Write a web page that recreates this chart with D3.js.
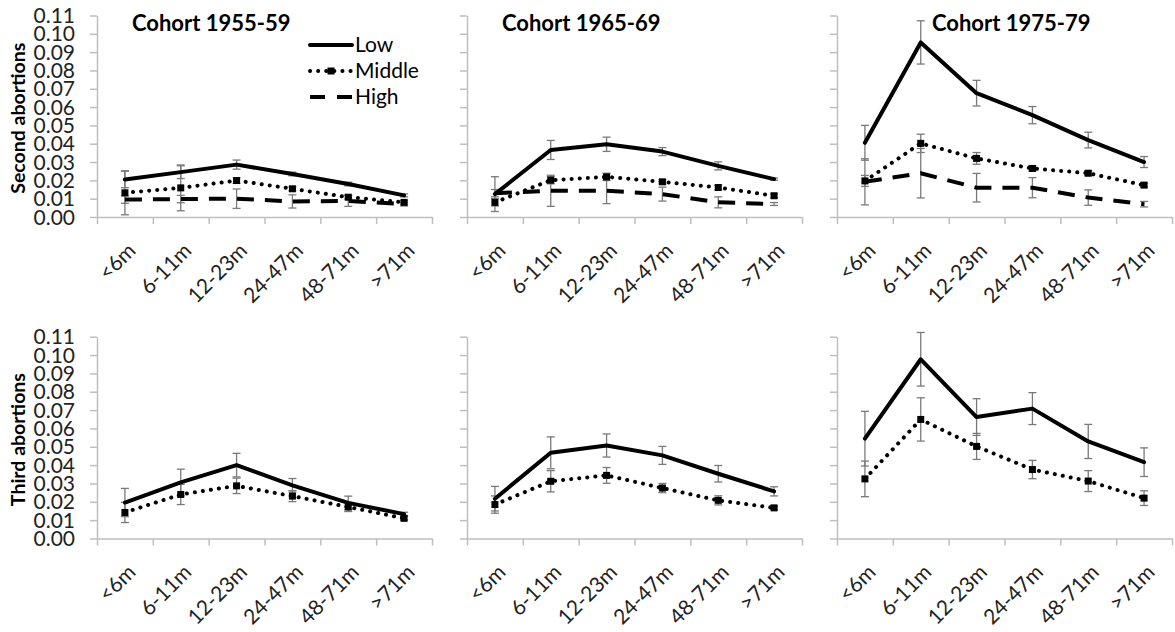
<!DOCTYPE html>
<html>
<head>
<meta charset="utf-8">
<script src="https://cdn.jsdelivr.net/npm/d3@7"></script>
<style>
  body { margin: 0; background: #fff; }
  svg { font-family: Lato, "Open Sans", sans-serif; }
  .tick text { fill: #222; }
</style>
</head>
<body>
<svg width="1175" height="632"></svg>
<script>
const categories = ["<6m", "6-11m", "12-23m", "24-47m", "48-71m", ">71m"];
const cohorts = ["Cohort 1955-59", "Cohort 1965-69", "Cohort 1975-79"];
const rowLabels = ["Second abortions", "Third abortions"];
const yTickValues = [0, 0.01, 0.02, 0.03, 0.04, 0.05, 0.06, 0.07, 0.08, 0.09, 0.10, 0.11];
const legendNames = ["Low", "Middle", "High"];

// second abortions, one inner array per cohort
const secondLow = [
  [0.0205, 0.0245, 0.0286, 0.0235, 0.0180, 0.0118],
  [0.0125, 0.0366, 0.0397, 0.0357, 0.0279, 0.0207],
  [0.0405, 0.0953, 0.0676, 0.0556, 0.0420, 0.0300]
];
const secondLowErr = [
  [0.0045, 0.0035, 0.0025, 0.0010, 0.0010, 0.0008],
  [0.0095, 0.0052, 0.0039, 0.0022, 0.0022, 0.0006],
  [0.0095, 0.0118, 0.0070, 0.0047, 0.0043, 0.0030]
];
const secondMiddle = [
  [0.0132, 0.0159, 0.0199, 0.0154, 0.0108, 0.0080],
  [0.0080, 0.0201, 0.0219, 0.0192, 0.0161, 0.0116],
  [0.0197, 0.0402, 0.0320, 0.0265, 0.0239, 0.0174]
];
const secondMiddleErr = [
  [0.0120, 0.0125, 0.0015, 0.0010, 0.0010, 0.0010],
  [0.0020, 0.0020, 0.0020, 0.0012, 0.0012, 0.0010],
  [0.0030, 0.0050, 0.0032, 0.0015, 0.0013, 0.0010]
];
const secondHigh = [
  [0.0095, 0.0098, 0.0100, 0.0085, 0.0088, 0.0070],
  [0.0130, 0.0143, 0.0143, 0.0125, 0.0080, 0.0071],
  [0.0192, 0.0239, 0.0160, 0.0160, 0.0106, 0.0070]
];
const secondHighErr = [
  [0.0020, 0.0020, 0.0053, 0.0036, 0.0030, 0.0010],
  [0.0020, 0.0085, 0.0070, 0.0038, 0.0030, 0.0008],
  [0.0126, 0.0135, 0.0078, 0.0055, 0.0042, 0.0015]
];

// third abortions
const thirdLow = [
  [0.0196, 0.0306, 0.0400, 0.0290, 0.0194, 0.0133],
  [0.0217, 0.0467, 0.0507, 0.0453, 0.0353, 0.0257],
  [0.0544, 0.0977, 0.0662, 0.0708, 0.0529, 0.0416]
];
const thirdLowErr = [
  [0.0077, 0.0072, 0.0064, 0.0037, 0.0037, 0.0010],
  [0.0067, 0.0087, 0.0063, 0.0049, 0.0045, 0.0025],
  [0.0149, 0.0146, 0.0100, 0.0087, 0.0093, 0.0078]
];
const thirdMiddle = [
  [0.0142, 0.0240, 0.0287, 0.0231, 0.0172, 0.0110],
  [0.0185, 0.0312, 0.0344, 0.0275, 0.0208, 0.0167],
  [0.0325, 0.0649, 0.0502, 0.0376, 0.0313, 0.0220]
];
const thirdMiddleErr = [
  [0.0055, 0.0055, 0.0042, 0.0030, 0.0025, 0.0010],
  [0.0047, 0.0058, 0.0043, 0.0025, 0.0025, 0.0008],
  [0.0097, 0.0118, 0.0071, 0.0050, 0.0057, 0.0040]
];

const rows = [
  [
    { name: "High", values: secondHigh, err: secondHighErr },
    { name: "Middle", values: secondMiddle, err: secondMiddleErr },
    { name: "Low", values: secondLow, err: secondLowErr }
  ],
  [
    { name: "Middle", values: thirdMiddle, err: thirdMiddleErr },
    { name: "Low", values: thirdLow, err: thirdLowErr }
  ]
];

const styles = {
  Low: { dash: null, cap: "round" },
  Middle: { dash: "0.1 8", cap: "round" },
  High: { dash: "17 11", cap: "butt" }
};

const panelLeft = 97;
const panelStep = 370;
const panelWidth = 335;
const rowRange = [[217, 15.5], [538.5, 336.7]];
const titleOffset = [35, 35, 95];
const axisGrey = "#bfbfbf";

const svg = d3.select("svg");

rowLabels.forEach((label, r) => {
  const yr = rowRange[r];
  svg.append("text")
    .attr("transform", `translate(18, ${(yr[0] + yr[1]) / 2 + 2}) rotate(-90)`)
    .attr("text-anchor", "middle")
    .attr("dy", "0.35em")
    .attr("font-weight", "bold")
    .attr("font-size", 19.5)
    .text(label);
});

rows.forEach((series, r) => {
  cohorts.forEach((cohort, c) => {
    const x0 = panelLeft + c * panelStep;
    const xScale = d3.scaleBand().domain(categories).range([x0, x0 + panelWidth]);
    const edge = d3.scaleLinear().domain([0, categories.length]).range([x0, x0 + panelWidth]);
    const yScale = d3.scaleLinear().domain([0, 0.11]).range(rowRange[r]);
    const cx = (d) => xScale(d) + xScale.bandwidth() / 2;
    const g = svg.append("g");

    // y axis
    const ya = g.append("g")
      .attr("transform", `translate(${x0}, 0)`)
      .call(d3.axisLeft(yScale).tickValues(yTickValues).tickSize(7).tickSizeOuter(0)
        .tickFormat(c === 0 ? d3.format(".2f") : ""));
    ya.select(".domain").attr("stroke", axisGrey).attr("stroke-width", 1.5);
    ya.selectAll(".tick line").attr("stroke", axisGrey).attr("stroke-width", 1.5);
    ya.selectAll(".tick text").attr("font-size", 21).attr("x", -22).attr("dy", "0.34em")
      .attr("font-family", "Lato");

    // x axis: tick marks on band edges, labels at centres
    const xe = g.append("g")
      .attr("transform", `translate(0, ${rowRange[r][0]})`)
      .call(d3.axisBottom(edge).tickValues(d3.range(categories.length + 1)).tickSize(7).tickSizeOuter(0).tickFormat(""));
    xe.select(".domain").attr("stroke", axisGrey).attr("stroke-width", 1.5);
    xe.selectAll(".tick line").attr("stroke", axisGrey).attr("stroke-width", 1.5);

    const xl = g.append("g")
      .attr("transform", `translate(0, ${rowRange[r][0]})`)
      .call(d3.axisBottom(xScale).tickSize(0));
    xl.select(".domain").remove();
    xl.selectAll(".tick text")
      .attr("font-size", 21)
      .attr("font-family", "Lato")
      .attr("text-anchor", "end")
      .attr("y", 0)
      .attr("dy", 0)
      .attr("transform", "translate(12, 35) rotate(-45)");

    if (r === 0) {
      g.append("text")
        .attr("x", x0 + titleOffset[c])
        .attr("y", 31)
        .attr("font-weight", "bold")
        .attr("font-size", 22)
        .text(cohort);
    }

    // error bars
    series.forEach((s) => {
      const vals = s.values[c], errs = s.err[c];
      const eb = g.append("g").attr("stroke", "#7a7a7a").attr("stroke-width", 1.3);
      categories.forEach((cat, i) => {
        const lo = yScale(vals[i] - errs[i]), hi = yScale(vals[i] + errs[i]);
        eb.append("line").attr("x1", cx(cat)).attr("x2", cx(cat)).attr("y1", lo).attr("y2", hi);
        eb.append("line").attr("x1", cx(cat) - 4).attr("x2", cx(cat) + 4).attr("y1", lo).attr("y2", lo);
        eb.append("line").attr("x1", cx(cat) - 4).attr("x2", cx(cat) + 4).attr("y1", hi).attr("y2", hi);
      });
    });

    // lines and markers
    series.forEach((s) => {
      const vals = s.values[c];
      const st = styles[s.name];
      const line = d3.line().x((d, i) => cx(categories[i])).y((d) => yScale(d));
      g.append("path")
        .datum(vals)
        .attr("d", line)
        .attr("fill", "none")
        .attr("stroke", "#000")
        .attr("stroke-width", 4)
        .attr("stroke-linejoin", "round")
        .attr("stroke-linecap", st.cap)
        .attr("stroke-dasharray", st.dash);
      if (s.name === "Middle") {
        g.selectAll(null).data(vals).enter().append("rect")
          .attr("x", (d, i) => cx(categories[i]) - 3.5)
          .attr("y", (d) => yScale(d) - 3.5)
          .attr("width", 7).attr("height", 7)
          .attr("fill", "#000");
      }
    });
  });
});

// legend
const legend = svg.append("g").attr("transform", "translate(310, 45)");
legendNames.forEach((name, i) => {
  const st = styles[name];
  const row = legend.append("g").attr("transform", `translate(0, ${i * 26})`);
  row.append("line")
    .attr("x1", 0).attr("x2", 42).attr("y1", 0).attr("y2", 0)
    .attr("stroke", "#000").attr("stroke-width", 4)
    .attr("stroke-linecap", st.cap)
    .attr("stroke-dasharray", name === "High" ? "15 12" : st.dash);
  if (name === "Middle") {
    row.append("rect").attr("x", 17.5).attr("y", -3.5).attr("width", 7).attr("height", 7).attr("fill", "#000");
  }
  row.append("text")
    .attr("x", 45).attr("y", 0).attr("dy", "0.35em")
    .attr("font-size", 21)
    .text(name);
});
</script>
</body>
</html>
